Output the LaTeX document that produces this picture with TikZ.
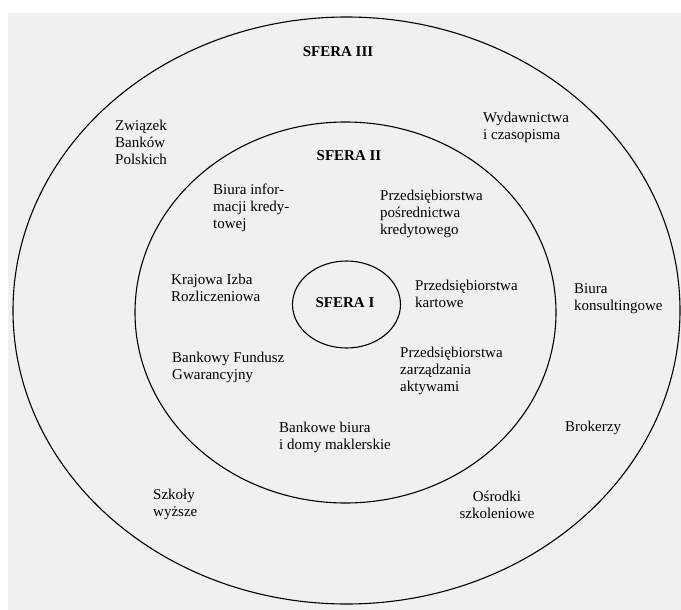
\documentclass[tikz,border=0pt]{standalone}
\usepackage{fontspec}
\setmainfont{Liberation Serif}
\usepackage{xcolor}
\usepackage{tikz}
\definecolor{paper}{RGB}{241,240,236}
\tikzset{
    sphere/.style={draw=black, line width=1.1pt},
    sferaName/.style={font=\fontsize{15}{17}\selectfont\bfseries, align=center, inner sep=0pt},
    member/.style={font=\fontsize{15}{17}\selectfont, align=left, anchor=west, inner sep=0pt},
    memberC/.style={font=\fontsize{15}{17}\selectfont, align=center, inner sep=0pt}
}

\begin{document}
\begin{tikzpicture}[x=1pt, y=-1pt]
    \useasboundingbox (0,0) rectangle (681,610);
    % Scanned page
    \fill[white] (0,0) rectangle (681,610);
    \fill[paper] (8,13) rectangle (681,610);

    % Spheres
    \draw[sphere] (346.5,310.5) ellipse [x radius=333.5pt, y radius=293.5pt];
    \draw[sphere] (345.5,312.5) ellipse [x radius=210.5pt, y radius=190.5pt];
    \draw[sphere] (346.5,304.5) ellipse [x radius=54pt, y radius=43.5pt];

    \node[sferaName] (sferaIII) at (338,52) {SFERA III};
    \node[sferaName] (sferaII) at (349,156) {SFERA II};
    \node[sferaName] (sferaI) at (345,303) {SFERA I};

    % Sphere II
    \node[member] (bik) at (213,208) {Biura infor-\\macji kredy-\\towej};
    \node[member] (posrednictwo) at (380,214) {Przedsiębiorstwa\\pośrednictwa\\kredytowego};
    \node[member] (kir) at (171,288) {Krajowa Izba\\Rozliczeniowa};
    \node[member] (kartowe) at (415,294) {Przedsiębiorstwa\\kartowe};
    \node[member] (bfg) at (172,367) {Bankowy Fundusz\\Gwarancyjny};
    \node[member] (aktywa) at (400,371) {Przedsiębiorstwa\\zarządzania\\aktywami};
    \node[member] (maklerskie) at (279,437) {Bankowe biura\\i domy maklerskie};

    % Sphere III
    \node[member] (zbp) at (115,142) {Związek\\Banków\\Polskich};
    \node[member] (wydawnictwa) at (483,127) {Wydawnictwa\\i czasopisma};
    \node[member] (konsulting) at (574,299) {Biura\\konsultingowe};
    \node[member] (brokerzy) at (565,428) {Brokerzy};
    \node[member] (szkoly) at (153,504) {Szkoły\\wyższe};
    \node[memberC] (osrodki) at (497,505) {Ośrodki\\szkoleniowe};
\end{tikzpicture}
\end{document}
